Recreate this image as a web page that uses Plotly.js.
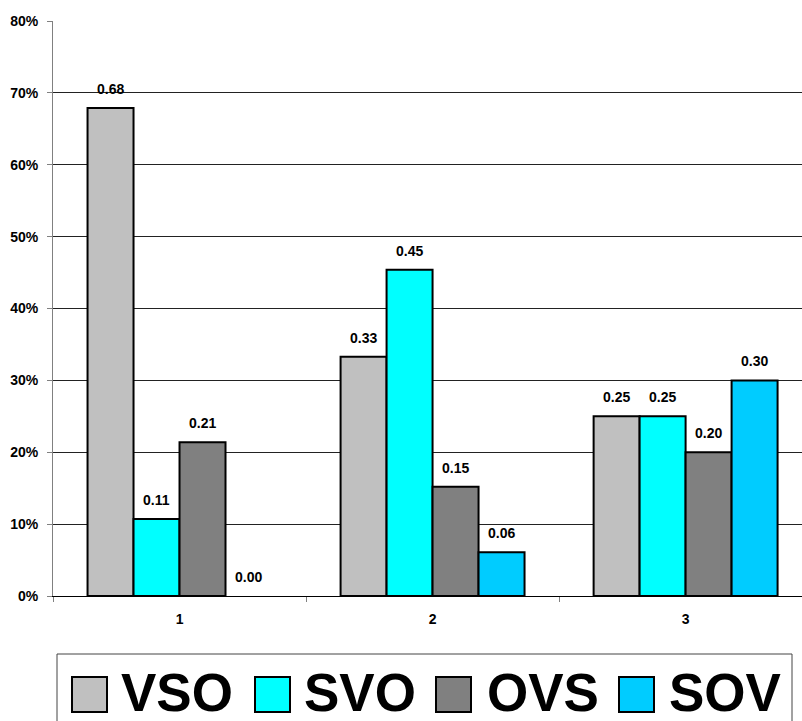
<!DOCTYPE html>
<html>
<head>
<meta charset="utf-8">
<script src="https://cdn.plot.ly/plotly-3.0.1.min.js"></script>
<style>
  html, body { margin: 0; padding: 0; background: #fff; }
  #chart { width: 802px; height: 721px; }
</style>
</head>
<body>
<div id="chart"></div>
<script>
// Word-order shares per group
const categories = ['1', '2', '3'];
const seriesNames = ['VSO', 'SVO', 'OVS', 'SOV'];
const vso = [0.679, 0.333, 0.25];
const svo = [0.107, 0.454, 0.25];
const ovs = [0.214, 0.152, 0.20];
const sov = [0.00, 0.061, 0.30];
const seriesValues = [vso, svo, ovs, sov];
const seriesColors = ['#C0C0C0', '#00FFFF', '#808080', '#00CCFF'];

const FONT = 'Arial, "Liberation Sans", sans-serif';
const W = 802, H = 721;
const M = { l: 53, r: 0, t: 21, b: 125 };
const BARGAP = 0.273;
const plotW = W - M.l - M.r, plotH = H - M.t - M.b;

// pixel -> paper helpers for the hand-drawn legend block
const px = p => (p - M.l) / plotW;
const py = p => (H - M.b - p) / plotH;

const traces = seriesNames.map((name, i) => ({
  type: 'bar',
  name: name,
  x: categories,
  y: seriesValues[i],
  marker: {
    color: seriesColors[i],
    // zero-height bars get no outline
    line: { color: '#000', width: seriesValues[i].map(v => (v > 0 ? 2 : 0)) }
  },
  hoverinfo: 'x+y+name'
}));

// value labels above each bar
const annotations = [];
const slot = (1 - BARGAP) / seriesNames.length;
seriesValues.forEach((vals, i) => {
  vals.forEach((v, j) => {
    annotations.push({
      xref: 'x', yref: 'y',
      x: j + (i - (seriesNames.length - 1) / 2) * slot,
      y: v,
      yshift: 19,
      text: v.toFixed(2),
      showarrow: false,
      xanchor: 'center', yanchor: 'middle',
      font: { family: FONT, size: 14, color: '#000', weight: 'bold' }
    });
  });
});

// legend block: framed row of large swatches and names
const shapes = [{
  type: 'rect', xref: 'paper', yref: 'paper',
  x0: px(57), x1: px(792), y0: py(654), y1: py(724),
  line: { color: '#444', width: 1 }, fillcolor: 'rgba(0,0,0,0)', layer: 'above'
}];
const swatchX = [72, 255, 436, 619];
const labelX = [119, 302, 485, 667];
seriesNames.forEach((name, i) => {
  shapes.push({
    type: 'rect', xref: 'paper', yref: 'paper',
    x0: px(swatchX[i]), x1: px(swatchX[i] + 35), y0: py(677), y1: py(712),
    line: { color: '#000', width: 2 }, fillcolor: seriesColors[i], layer: 'above'
  });
  annotations.push({
    xref: 'paper', yref: 'paper',
    x: px(labelX[i]), y: py(692),
    xanchor: 'left', yanchor: 'middle',
    text: name, showarrow: false,
    font: { family: FONT, size: 53, color: '#000', weight: 'bold' }
  });
});

const layout = {
  width: W, height: H,
  margin: M,
  paper_bgcolor: '#fff', plot_bgcolor: '#fff',
  barmode: 'group', bargap: BARGAP, bargroupgap: 0,
  showlegend: false,
  font: { family: FONT, size: 14, color: '#000' },
  xaxis: {
    type: 'category',
    range: [-0.5, 2.46],
    showline: true, linecolor: '#000', linewidth: 1,
    ticks: 'outside', tickson: 'boundaries', ticklen: 5, tickcolor: '#808080',
    ticklabelstandoff: 10,
    tickfont: { family: FONT, size: 14, color: '#000', weight: 'bold' },
    showgrid: false, zeroline: false, fixedrange: true
  },
  yaxis: {
    range: [0, 0.8],
    tickvals: [0, 0.1, 0.2, 0.3, 0.4, 0.5, 0.6, 0.7, 0.8],
    tickformat: '.0%',
    showline: true, linecolor: '#808080', linewidth: 1,
    ticks: 'outside', ticklen: 5, tickcolor: '#808080',
    ticklabelstandoff: 6,
    tickfont: { family: FONT, size: 14, color: '#000', weight: 'bold' },
    showgrid: true, gridcolor: '#222', gridwidth: 1,
    zeroline: false, fixedrange: true
  },
  annotations: annotations,
  shapes: shapes
};

Plotly.newPlot('chart', traces, layout, { displayModeBar: false, staticPlot: true });
</script>
</body>
</html>
